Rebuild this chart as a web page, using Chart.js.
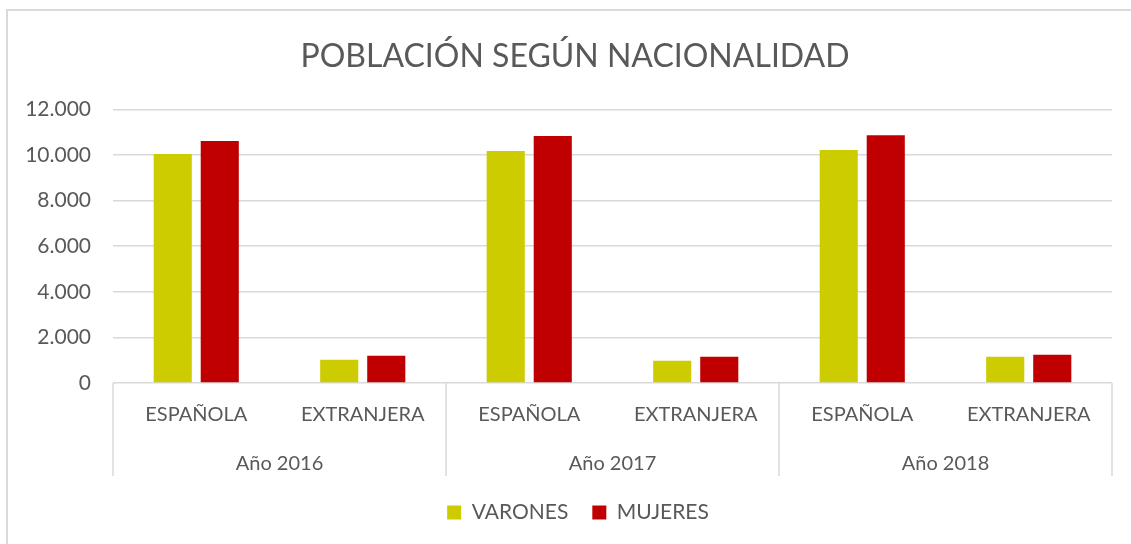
<!DOCTYPE html>
<html>
<head>
<meta charset="utf-8">
<script src="https://cdn.jsdelivr.net/npm/chart.js@4"></script>
<style>
  body { margin: 0; background: #fff; }
  #frame { position: absolute; left: 6px; top: 9px; width: 1125px; height: 535px;
           border-top: 2px solid #d9d9d9; border-left: 2px solid #d9d9d9; }
  #chartPob { display: block; }
</style>
</head>
<body>
<div id="frame"><canvas id="chartPob" width="1123" height="533"></canvas></div>
<script>
const categorias = ['ESPAÑOLA', 'EXTRANJERA', 'ESPAÑOLA', 'EXTRANJERA', 'ESPAÑOLA', 'EXTRANJERA'];
const anios = ['Año 2016', 'Año 2017', 'Año 2018'];
const varones = [10040, 1020, 10170, 980, 10220, 1150];
const mujeres = [10610, 1200, 10830, 1150, 10870, 1240];
const yMax = 12000;
const yStep = 2000;

const gris = '#595959';
const linea = '#d9d9d9';

Chart.defaults.font.family = 'Lato';
Chart.defaults.color = gris;

// lineas que separan los grupos de años bajo el eje
const separadores = {
  id: 'separadores',
  afterDraw(chart) {
    const {ctx, chartArea, scales: {x}} = chart;
    const paso = x.width / anios.length;
    ctx.save();
    ctx.strokeStyle = linea;
    ctx.lineWidth = 1.5;
    ctx.beginPath();
    for (let i = 0; i <= anios.length; i++) {
      const px = x.left + i * paso;
      ctx.moveTo(px, chartArea.bottom);
      ctx.lineTo(px, chartArea.bottom + 93);
    }
    ctx.stroke();
    ctx.restore();
  }
};

// titulo y leyenda centrados sobre el area del grafico, como en Excel
const centrado = {
  id: 'centrado',
  afterLayout(chart) {
    const t = chart.titleBlock;
    t.left += 15; t.right += 15;
    const l = chart.legend;
    l.left += 18; l.right += 18;
  }
};

const ctx = document.getElementById('chartPob');

new Chart(ctx, {
  type: 'bar',
  data: {
    labels: categorias,
    datasets: [{
      label: 'VARONES',
      data: varones,
      backgroundColor: '#cccc00'
    }, {
      label: 'MUJERES',
      data: mujeres,
      backgroundColor: '#c00000'
    }]
  },
  options: {
    responsive: false,
    animation: false,
    categoryPercentage: 0.565,
    barPercentage: 0.81,
    layout: {
      padding: {left: 0, right: 19, top: 0, bottom: 11}
    },
    scales: {
      y: {
        min: 0,
        max: yMax,
        border: {display: false},
        grid: {color: linea, lineWidth: 1.5, drawTicks: false},
        ticks: {
          stepSize: yStep,
          padding: 22,
          font: {size: 21},
          callback: v => v.toString().replace(/\B(?=(\d{3})+(?!\d))/g, '.')
        },
        afterFit: s => { s.width = 105; }
      },
      x: {
        border: {display: false},
        grid: {display: false, drawTicks: false},
        ticks: {padding: 20, font: {size: 20}, maxRotation: 0, autoSkip: false},
        afterFit: s => { s.height = 52; }
      },
      x2: {
        type: 'category',
        position: 'bottom',
        labels: anios,
        offset: true,
        border: {display: false},
        grid: {display: false, drawTicks: false},
        ticks: {padding: 17, font: {size: 20}, maxRotation: 0},
        afterFit: s => { s.height = 43; }
      }
    },
    plugins: {
      title: {
        display: true,
        text: 'POBLACIÓN SEGÚN NACIONALIDAD',
        color: gris,
        font: {size: 32, weight: 'normal'},
        padding: {top: 26, bottom: 34}
      },
      legend: {
        display: true,
        position: 'bottom',
        labels: {
          boxWidth: 14,
          boxHeight: 14,
          padding: 24,
          font: {size: 21}
        }
      },
      tooltip: {enabled: false}
    }
  },
  plugins: [separadores, centrado]
});
</script>
</body>
</html>
